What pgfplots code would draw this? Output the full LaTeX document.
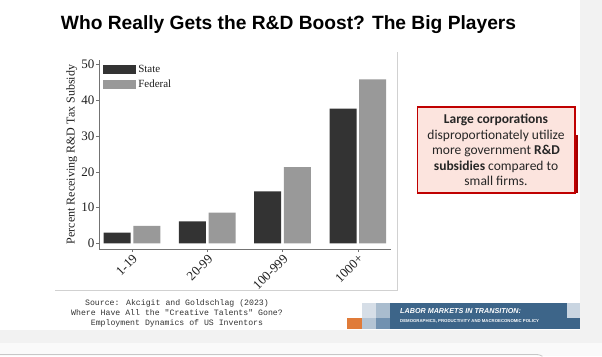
\documentclass[border=0pt]{standalone}
\usepackage{pgfplots}
\pgfplotsset{compat=1.18}
\usepackage{fontspec}
\setmainfont{Liberation Serif}
\newfontfamily\headfont{Liberation Sans}
\newfontfamily\calfont{Carlito}
\newfontfamily\srcfont{Liberation Mono}
\definecolor{stategray}{HTML}{333333}
\definecolor{fedgray}{HTML}{999999}
\definecolor{pagegray}{HTML}{F2F2F2}
\definecolor{boxfill}{HTML}{FCE4DE}
\definecolor{boxred}{HTML}{C00000}
\definecolor{bannerblue}{HTML}{3D6589}
\definecolor{bannerorange}{HTML}{E07B39}
\definecolor{bl1}{HTML}{D6DEE7}
\definecolor{bl2}{HTML}{B4C4D4}
\definecolor{bl3}{HTML}{A9BCCE}
\definecolor{bl4}{HTML}{7191B0}
\definecolor{bl5}{HTML}{C9D5E1}
\begin{document}
\begin{tikzpicture}
\begin{scope}[x=1pt,y=-1pt]
\useasboundingbox (0,0) rectangle (602,356);
\fill[pagegray] (0,0) rectangle (602,356);
\fill[white] (0,0) rectangle (580,330);
\fill[white!98!black] (0,343) rectangle (602,356);
\draw[black!22, line width=0.8pt, rounded corners=3pt] (0,354.5) -- (540,354.5) -- (542,356);
% chart image frame
\draw[black!18, line width=0.7pt] (55,290) -- (397.5,290) -- (397.5,52);
% title
\node[font=\headfont\bfseries\fontsize{19.2}{22}\selectfont, anchor=base] at (288.5,29) {Who Really Gets the R\&D Boost? The Big Players};
% text box
\fill[boxred!85!black] (574,135) rectangle (577.5,193);
\draw[boxred, line width=1.6pt, fill=boxfill] (417.5,107) rectangle (575,193);
\node[font=\calfont\fontsize{13.5}{15.4}\selectfont, text=black!85, align=center, anchor=center] at (496,150)
{\textbf{Large corporations}\\disproportionately utilize\\more government \textbf{R\&D}\\\textbf{subsidies} compared to\\small firms.};
% source
\node[font=\srcfont\fontsize{8.2}{9.7}\selectfont, text=black!80, align=center, anchor=center] at (177,313.5)
{Source: Akcigit and Goldschlag (2023)\\Where Have All the "Creative Talents" Gone?\\Employment Dynamics of US Inventors};
% banner
\fill[bannerorange] (346.7,317.7) rectangle (361.7,329.3);
\fill[bl1] (361.7,302.7) rectangle (376,317.7);
\fill[bl2] (361.7,317.7) rectangle (376,329.3);
\fill[bl3] (376,302.7) rectangle (390,317.7);
\fill[bl4] (376,317.7) rectangle (390,329.3);
\fill[bannerblue] (390,302.7) rectangle (566.7,329.3);
\fill[bannerblue] (566.7,317.7) rectangle (579.5,329.3);
\fill[bl5] (566.7,302.7) rectangle (579.5,317.7);
\node[font=\headfont\bfseries\itshape\fontsize{7.2}{8}\selectfont, text=white, anchor=west, inner sep=0pt] at (400,311.5) {LABOR MARKETS IN TRANSITION:};
\node[font=\headfont\bfseries\fontsize{4.3}{5}\selectfont, text=white!90!bl5, anchor=west, inner sep=0pt] at (400,321.5) {DEMOGRAPHICS, PRODUCTIVITY AND MACROECONOMIC POLICY};
\end{scope}
\begin{axis}[
  at={(99pt,-249pt)}, anchor=south west,
  scale only axis, width=292pt, height=189pt,
  xmin=-0.438, xmax=3.441, ymin=-1.6, ymax=51.3,
  axis x line*=bottom, axis y line*=left,
  axis line style={black!55, line width=0.8pt},
  xtick={0,1,2,3}, xticklabels={1-19,20-99,100-999,1000+},
  ytick={0,10,20,30,40,50},
  tick align=outside, major tick length=3pt,
  tick style={black!55, line width=0.6pt},
  /pgf/number format/assume math mode=true,
  ticklabel style={font=\fontsize{13}{15}\selectfont, text=black!88},
  xticklabel style={rotate=45, anchor=north east, inner sep=1pt},
  yticklabel style={inner sep=1.5pt},
  ylabel={Percent Receiving R\&D Tax Subsidy},
  ylabel style={font=\fontsize{12}{14}\selectfont, text=black!88, yshift=-1pt},
  legend cell align=left,
  legend style={draw=none, fill=none, at={(0.014,0.986)}, anchor=north west,
    font=\fontsize{11}{12}\selectfont, text=black!88, row sep=2.5pt, inner sep=0pt},
]
\addplot[ybar, bar width=27pt, bar shift=-14.8pt, fill=stategray, draw=none,
  legend image code/.code={\fill[stategray] (0pt,-4.3pt) rectangle (33pt,4.3pt);}]
  coordinates {(0,3.0) (1,6.1) (2,14.5) (3,37.7)};
\addlegendentry{State}
\addplot[ybar, bar width=27pt, bar shift=14.8pt, fill=fedgray, draw=none,
  legend image code/.code={\fill[fedgray] (0pt,-4.3pt) rectangle (33pt,4.3pt);}]
  coordinates {(0,4.9) (1,8.6) (2,21.3) (3,45.9)};
\addlegendentry{Federal}
\end{axis}
\end{tikzpicture}
\end{document}
